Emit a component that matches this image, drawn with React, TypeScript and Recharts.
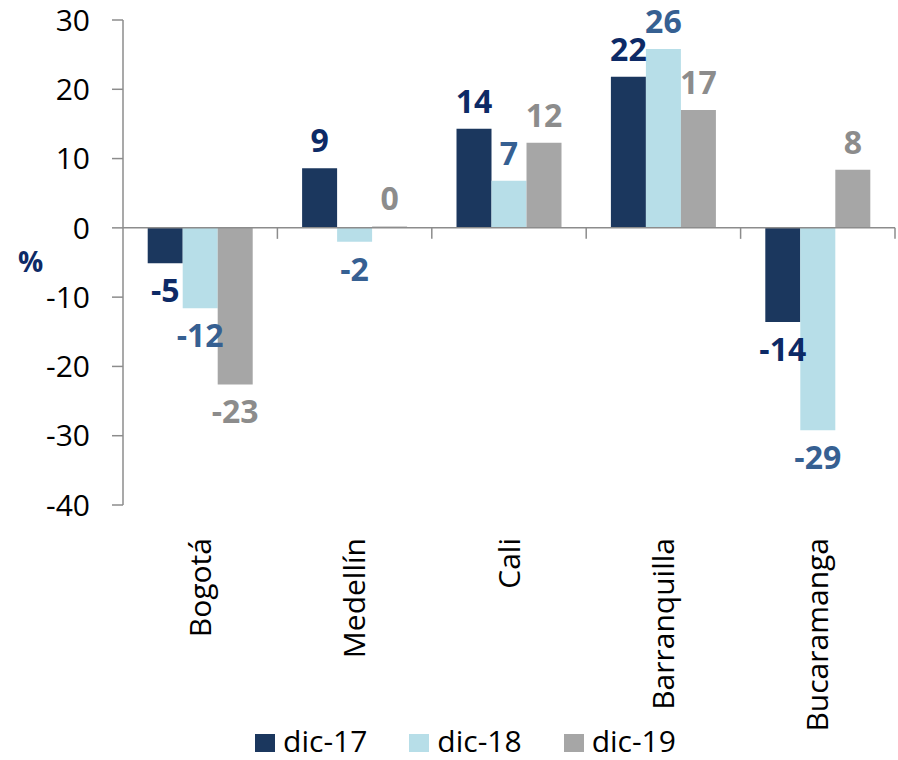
import { BarChart, Bar, XAxis, YAxis, Legend, LabelList, ReferenceLine } from 'recharts';

const categories = ['Bogotá', 'Medellín', 'Cali', 'Barranquilla', 'Bucaramanga'];
const dic17 = [-5.1, 8.6, 14.3, 21.8, -13.6];
const dic18 = [-11.6, -2.0, 6.8, 25.8, -29.2];
const dic19 = [-22.6, 0.2, 12.3, 17.0, 8.4];
const yTicks = [-40, -30, -20, -10, 0, 10, 20, 30];

const seriesNames = ['dic-17', 'dic-18', 'dic-19'];
const barColors = ['#1b375e', '#b7dee8', '#a6a6a6'];
const labelColors = ['#0d2a66', '#366092', '#8c8c8c'];

const data = categories.map((name, i) => ({
    name,
    'dic-17': dic17[i],
    'dic-18': dic18[i],
    'dic-19': dic19[i],
}));

const FONT = '"Open Sans", sans-serif';
const AXIS = '#8c8c8c';
const W = 898;
const H = 760;
const MARGIN = { top: 20, right: 3, left: 0, bottom: 0 };
const Y_AXIS_W = 123;
const X_AXIS_H = 205;
const LEGEND_H = 50;
const PLOT_H = H - MARGIN.top - X_AXIS_H - LEGEND_H;
const BAND = (W - MARGIN.left - MARGIN.right - Y_AXIS_W) / categories.length;
const zeroY = MARGIN.top + PLOT_H * (30 / 70);

function CategoryTick(props: any) {
    const { x, y, payload } = props;
    return (
        <g>
            <line x1={x + BAND / 2} x2={x + BAND / 2} y1={zeroY} y2={zeroY + 11} stroke={AXIS} strokeWidth={1.5} />
            <text
                x={x}
                y={y + 25}
                transform={`rotate(-90, ${x}, ${y + 25})`}
                textAnchor="end"
                dy="0.35em"
                fontFamily={FONT}
                fontSize={30}
                fill="#000"
            >
                {payload.value}
            </text>
        </g>
    );
}

function makeLabel(color: string) {
    return function ValueLabel(props: any) {
        const { x, y, width, height, value } = props;
        const top = Math.min(y, y + height);
        const bottom = Math.max(y, y + height);
        const cx = x + width / 2;
        const ty = value >= 0 ? top - 16 : bottom + 39;
        return (
            <text x={cx} y={ty} textAnchor="middle" fontFamily={FONT} fontSize={32} fontWeight="bold" fill={color}>
                {Math.round(value)}
            </text>
        );
    };
}

function LegendContent() {
    return (
        <div style={{ display: 'flex', justifyContent: 'center', marginLeft: 36, paddingTop: 8, fontFamily: FONT, fontSize: 30, lineHeight: 1.2 }}>
            {seriesNames.map((s, i) => (
                <div key={s} style={{ display: 'flex', alignItems: 'center', marginRight: i < 2 ? 42 : 0 }}>
                    <span style={{ display: 'inline-block', width: 20, height: 18, background: barColors[i], marginRight: 8, marginTop: 4 }} />
                    <span style={{ color: '#000' }}>{s}</span>
                </div>
            ))}
        </div>
    );
}

export default function App() {
    return (
        <div style={{ position: 'absolute', left: 0, top: 0, width: W, height: H, background: '#fff' }}>
            <BarChart width={W} height={H} data={data} margin={MARGIN} barCategoryGap="16%" barGap={0}>
                <XAxis
                    dataKey="name"
                    axisLine={false}
                    tickLine={false}
                    height={X_AXIS_H}
                    interval={0}
                    tick={<CategoryTick />}
                />
                <YAxis
                    domain={[-40, 30]}
                    ticks={yTicks}
                    width={Y_AXIS_W}
                    axisLine={{ stroke: AXIS, strokeWidth: 1.5 }}
                    tickLine={{ stroke: AXIS, strokeWidth: 1.5 }}
                    tickSize={11}
                    tickMargin={22}
                    tick={{ fill: '#000', fontSize: 30, fontFamily: FONT }}
                    label={{ value: '%', position: 'insideLeft', offset: 18, fill: '#0d2a66', fontSize: 28, fontWeight: 'bold', fontFamily: FONT }}
                />
                <Legend verticalAlign="bottom" height={LEGEND_H} wrapperStyle={{ bottom: -5 }} content={<LegendContent />} />
                {seriesNames.map((s, i) => (
                    <Bar key={s} dataKey={s} fill={barColors[i]} isAnimationActive={false}>
                        <LabelList dataKey={s} content={makeLabel(labelColors[i])} />
                    </Bar>
                ))}
                <ReferenceLine y={0} stroke={AXIS} strokeWidth={1.5} />
            </BarChart>
        </div>
    );
}
